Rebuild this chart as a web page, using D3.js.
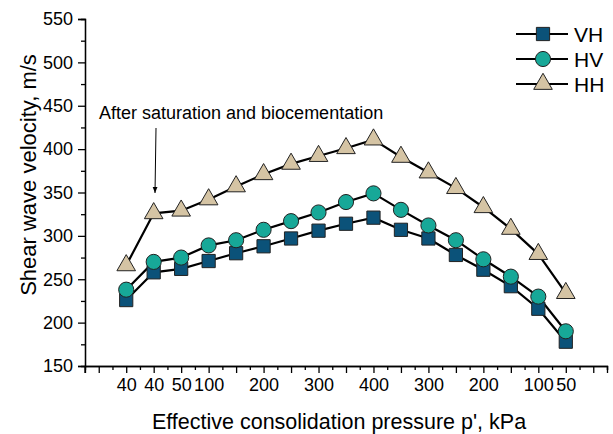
<!DOCTYPE html>
<html><head><meta charset="utf-8">
<script src="https://cdn.jsdelivr.net/npm/d3@7"></script>
<style>body{margin:0;background:#fff}svg{display:block;font-family:Arial,"Liberation Sans",sans-serif}</style>
</head><body><svg id="c" width="613" height="434"></svg>
<script>
const tickLabels = ["40","40","50","100","","200","","300","","400","","300","","200","","100","50"];
const seriesNames = ["VH","HV","HH"];
const vh = [226,258,262,271,280,288,297,306,314,321,307,297,278,261,242,216,178];
const hv = [238,270,275,289,295,307,317,327,339,349,330,312,295,273,253,230,190];
const hh = [266,326,329,342,357,371,383,392,401,411,391,373,355,333,308,279,234];
const yTicks = [150,200,250,300,350,400,450,500,550];

const svg = d3.select("#c");
const x = d3.scaleLinear().domain([-1.5,17.5]).range([85,607]);
const y = d3.scaleLinear().domain([150,550]).range([366,19]);

// axes
const yAxis = svg.append("g").attr("transform","translate(85,0)")
  .call(d3.axisLeft(y).tickValues(yTicks).tickSize(7).tickPadding(5));
const yMinor = svg.append("g").attr("transform","translate(85,0)")
  .call(d3.axisLeft(y).tickValues(d3.range(175,550,50)).tickSize(4).tickFormat(""));
const majorX = d3.range(-1,18);
const xAxis = svg.append("g").attr("transform","translate(0,366)")
  .call(d3.axisBottom(x).tickValues(majorX).tickSize(7).tickPadding(5)
    .tickFormat(d => (d>=0 && d<tickLabels.length) ? tickLabels[d] : ""));
const xMinor = svg.append("g").attr("transform","translate(0,366)")
  .call(d3.axisBottom(x).tickValues(d3.range(-0.5,17.6,1)).tickSize(4).tickFormat(""));
[yAxis,yMinor,xAxis,xMinor].forEach(g=>{
  g.select(".domain").attr("stroke","#000").attr("stroke-width",1.3);
  g.selectAll(".tick line").attr("stroke","#000").attr("stroke-width",1.3);
  g.selectAll("text").attr("font-size",18).attr("fill","#000").attr("font-family","Arial, 'Liberation Sans', sans-serif");
});
// extend origin tick downward
svg.append("line").attr("x1",85).attr("x2",85).attr("y1",366).attr("y2",373).attr("stroke","#000").attr("stroke-width",1.3);

// titles
svg.append("text").attr("x",339).attr("y",429).attr("text-anchor","middle")
  .attr("font-size",21.5).text("Effective consolidation pressure p', kPa");
svg.append("text").attr("transform","translate(36,175) rotate(-90)").attr("text-anchor","middle")
  .attr("font-size",22).text("Shear wave velocity, m/s");

const colors = {VH:"#0b5279", HV:"#17a898", HH:"#d5c4a4"};
const data = {VH:vh, HV:hv, HH:hh};
const line = d3.line().x((d,i)=>x(i)).y(d=>y(d));
const sym = {VH:d3.symbolSquare, HV:d3.symbolCircle, HH:d3.symbolTriangle};
const symSize = {VH:175, HV:180, HH:150};

seriesNames.forEach(s=>{
  svg.append("path").datum(data[s]).attr("d",line).attr("fill","none").attr("stroke","#000").attr("stroke-width",2.2);
});
seriesNames.forEach(s=>{
  svg.append("g").selectAll("path").data(data[s]).join("path")
    .attr("transform",(d,i)=>`translate(${x(i)},${y(d)})`)
    .attr("d",d3.symbol().type(sym[s]).size(symSize[s]))
    .attr("fill",colors[s]).attr("stroke","#222").attr("stroke-width",1);
});

// annotation
svg.append("text").attr("x",99).attr("y",119).attr("font-size",18).text("After saturation and biocementation");
svg.append("defs").append("marker").attr("id","ah").attr("viewBox","0 0 10 10").attr("refX",10).attr("refY",5)
  .attr("markerWidth",6).attr("markerHeight",8).attr("orient","auto")
  .append("path").attr("d","M0,1 L10,5 L0,9 Z").attr("fill","#000");
svg.append("line").attr("x1",156).attr("x2",155).attr("y1",128).attr("y2",193)
  .attr("stroke","#000").attr("stroke-width",1).attr("marker-end","url(#ah)");

// legend
const lg = svg.append("g");
seriesNames.forEach((s,k)=>{
  const yy = 34 + k*25;
  lg.append("line").attr("x1",516).attr("x2",568).attr("y1",yy).attr("y2",yy).attr("stroke","#000").attr("stroke-width",2);
  lg.append("path").attr("transform",`translate(543,${yy})`).attr("d",d3.symbol().type(sym[s]).size(symSize[s]))
    .attr("fill",colors[s]).attr("stroke","#222").attr("stroke-width",1);
  lg.append("text").attr("x",574).attr("y",yy+7.5).attr("font-size",21).text(s);
});
</script></body></html>
